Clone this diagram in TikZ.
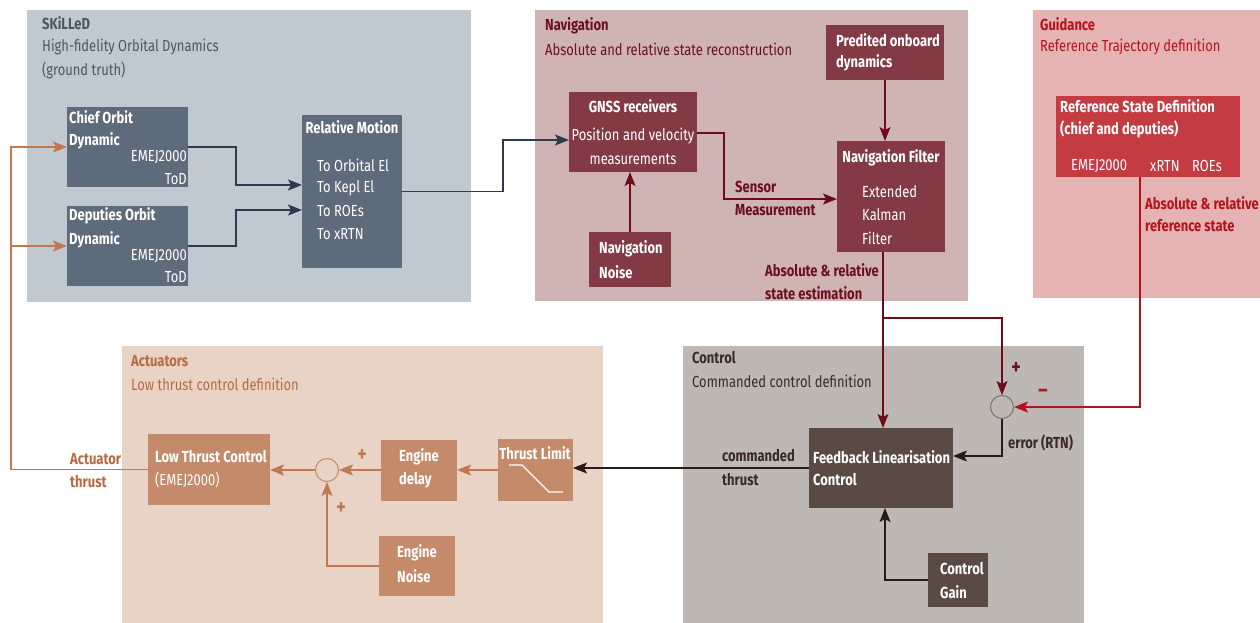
\documentclass[tikz,border=0pt]{standalone}
\usepackage{fontspec}
\setmainfont{Fira Sans}[FakeStretch=0.81]
\usetikzlibrary{arrows.meta,positioning}

\definecolor{skbg}{HTML}{C1C9D0}
\definecolor{skbox}{HTML}{5E6B7B}
\definecolor{sktxt}{HTML}{4A5666}
\definecolor{skarr}{HTML}{2E3B4E}
\definecolor{nvbg}{HTML}{D0B3B3}
\definecolor{nvbox}{HTML}{843A44}
\definecolor{nvtxt}{HTML}{6B1020}
\definecolor{nvarr}{HTML}{6E0C18}
\definecolor{gdbg}{HTML}{E6B3B4}
\definecolor{gdbox}{HTML}{C43C42}
\definecolor{gdtxt}{HTML}{B5121B}
\definecolor{acbg}{HTML}{E8D3C6}
\definecolor{acbox}{HTML}{C48A6A}
\definecolor{actxt}{HTML}{B86A40}
\definecolor{acarr}{HTML}{C07850}
\definecolor{ctbg}{HTML}{BEB8B4}
\definecolor{ctbox}{HTML}{5A4A44}
\definecolor{cttxt}{HTML}{3A2A24}
\definecolor{ctarr}{HTML}{2A1A16}

\tikzset{
  blk/.style={anchor=north west, inner sep=0pt, outer sep=0pt},
  txt/.style={anchor=west, inner sep=0pt, font=\fontsize{16}{19}\selectfont},
  hd/.style={txt, font=\fontsize{16}{19}\selectfont\bfseries},
  sgn/.style={anchor=center, inner sep=0pt, font=\fontsize{22}{22}\selectfont\bfseries},
  con/.style={line width=1.3pt, -{Stealth[length=14pt,width=11pt,inset=3pt]}},
  sumnode/.style={circle, draw=#1, line width=1pt, minimum size=23, inner sep=0pt},
}

\begin{document}
\begin{tikzpicture}[x=1pt,y=-1pt]
\fill[white] (0,0) rectangle (1260,623);
\useasboundingbox (0,0) rectangle (1260,623);

% group backgrounds
\fill[skbg] (27,10) rectangle (471,302);
\fill[nvbg] (535,10) rectangle (968,301);
\fill[gdbg] (1033,10) rectangle (1260,298);
\fill[acbg] (122,346) rectangle (603,623);
\fill[ctbg] (683,346) rectangle (1084,623);

% group titles
\node[hd, text=sktxt] (skT) at (42,23) {SKiLLeD};
\node[txt, text=sktxt] (skS1) at (42,47) {High-fidelity Orbital Dynamics};
\node[txt, text=sktxt] (skS2) at (42,70) {(ground truth)};
\node[hd, text=nvtxt] (nvT) at (545,26) {Navigation};
\node[txt, text=nvtxt] (nvS) at (545,49) {Absolute and relative state reconstruction};
\node[hd, text=gdtxt] (gdT) at (1040,24) {Guidance};
\node[txt, text=gdtxt] (gdS) at (1040,47) {Reference Trajectory definition};
\node[hd, text=actxt] (acT) at (131,361) {Actuators};
\node[txt, text=actxt] (acS) at (131,384) {Low thrust control definition};
\node[hd, text=cttxt] (ctT) at (692,358) {Control};
\node[txt, text=cttxt] (ctS) at (692,381) {Commanded control definition};

% SKiLLeD blocks
\node[blk, fill=skbox, minimum width=121, minimum height=80] (chief) at (67,107) {};
\node[hd, text=white] (chiefA) at (69,117) {Chief Orbit};
\node[hd, text=white] (chiefB) at (69,141) {Dynamic};
\node[txt, text=white, anchor=east] (chiefC) at (187,157) {EMEJ2000};
\node[txt, text=white, anchor=east] (chiefD) at (187,179) {ToD};

\node[blk, fill=skbox, minimum width=121, minimum height=80] (dep) at (67,206) {};
\node[hd, text=white] (depA) at (69,216) {Deputies Orbit};
\node[hd, text=white] (depB) at (69,240) {Dynamic};
\node[txt, text=white, anchor=east] (depC) at (187,256) {EMEJ2000};
\node[txt, text=white, anchor=east] (depD) at (187,277) {ToD};

\node[blk, fill=skbox, minimum width=100, minimum height=153] (relm) at (302,115) {};
\node[hd, text=white, anchor=center] (relmA) at (352,127) {Relative Motion};
\node[txt, text=white] (relmB) at (317,165) {To Orbital El};
\node[txt, text=white] (relmC) at (317,188) {To Kepl El};
\node[txt, text=white] (relmD) at (317,211) {To ROEs};
\node[txt, text=white] (relmE) at (317,234) {To xRTN};

% Navigation blocks
\node[blk, fill=nvbox, minimum width=128, minimum height=80] (gnss) at (569,92) {};
\node[hd, text=white, anchor=center] (gnssA) at (633,106) {GNSS receivers};
\node[txt, text=white, anchor=center] (gnssB) at (633,136) {Position and velocity};
\node[txt, text=white, anchor=center] (gnssC) at (633,159) {measurements};

\node[blk, fill=nvbox, minimum width=118, minimum height=55] (pred) at (826,25) {};
\node[hd, text=white] (predA) at (836,40) {Predited onboard};
\node[hd, text=white] (predB) at (836,63) {dynamics};

\node[blk, fill=nvbox, minimum width=108, minimum height=111] (navf) at (837,141) {};
\node[hd, text=white, anchor=center] (navfA) at (891,158) {Navigation Filter};
\node[txt, text=white] (navfB) at (862,192) {Extended};
\node[txt, text=white] (navfC) at (862,215) {Kalman};
\node[txt, text=white] (navfD) at (862,238) {Filter};

\node[blk, fill=nvbox, minimum width=82, minimum height=55] (nnoise) at (589,232) {};
\node[hd, text=white] (nnoiseA) at (599,249) {Navigation};
\node[hd, text=white] (nnoiseB) at (599,272) {Noise};

\node[hd, text=nvtxt] (sensA) at (735,187) {Sensor};
\node[hd, text=nvtxt] (sensB) at (735,210) {Measurement};
\node[hd, text=nvtxt] (estA) at (765,270) {Absolute \& relative};
\node[hd, text=nvtxt] (estB) at (765,293) {state estimation};

% Guidance block
\node[blk, fill=gdbox, minimum width=184, minimum height=81] (refs) at (1056,96) {};
\node[hd, text=white] (refsA) at (1060,106) {Reference State Definition};
\node[hd, text=white] (refsB) at (1060,129) {(chief and deputies)};
\node[txt, text=white] (refsC) at (1071,166) {EMEJ2000};
\node[txt, text=white] (refsD) at (1150,166) {xRTN};
\node[txt, text=white] (refsE) at (1192,166) {ROEs};
\node[hd, text=gdtxt] (refA) at (1145,203) {Absolute \& relative};
\node[hd, text=gdtxt] (refB) at (1145,226) {reference state};

% Actuators blocks
\node[blk, fill=acbox, minimum width=122, minimum height=71] (ltc) at (148,434) {};
\node[hd, text=white] (ltcA) at (155,457) {Low Thrust Control};
\node[txt, text=white] (ltcB) at (155,480) {(EMEJ2000)};

\node[blk, fill=acbox, minimum width=76, minimum height=61] (edelay) at (381,440) {};
\node[hd, text=white] (edelayA) at (399,457) {Engine};
\node[hd, text=white] (edelayB) at (399,480) {delay};

\node[blk, fill=acbox, minimum width=75, minimum height=62] (tlim) at (498,439) {};
\node[hd, text=white, anchor=center] (tlimA) at (535,453) {Thrust Limit};
\draw[white, line width=1.2pt] (509,465) -- (522,465) -- (549,492) -- (563,492);

\node[blk, fill=acbox, minimum width=76, minimum height=60] (enoise) at (379,536) {};
\node[hd, text=white] (enoiseA) at (397,553) {Engine};
\node[hd, text=white] (enoiseB) at (397,576) {Noise};

\node[sumnode=acbox, fill=acbg] (suma) at (327,470) {};
\node[sgn, text=acarr] (plusA) at (362,455) {+};
\node[sgn, text=acarr] (plusB) at (341,508) {+};
\node[hd, text=actxt] (actA) at (70,459) {Actuator};
\node[hd, text=actxt] (actB) at (70,482) {thrust};

% Control blocks
\node[blk, fill=ctbox, minimum width=144, minimum height=80] (fbl) at (809,428) {};
\node[hd, text=white] (fblA) at (813,457) {Feedback Linearisation};
\node[hd, text=white] (fblB) at (813,480) {Control};

\node[blk, fill=ctbox, minimum width=60, minimum height=54] (gain) at (928,553) {};
\node[hd, text=white] (gainA) at (940,569) {Control};
\node[hd, text=white] (gainB) at (940,592) {Gain};

\node[sumnode=gray!90!black, fill=ctbg] (sumc) at (1002,407) {};
\node[sgn, text=nvtxt] (plusC) at (1016,368) {+};
\node[sgn, text=gdtxt] (minC) at (1043,393) {\textendash};
\node[hd, text=cttxt] (cmdA) at (722,456) {commanded};
\node[hd, text=cttxt] (cmdB) at (722,480) {thrust};
\node[hd, text=cttxt] (errA) at (1008,443) {error (RTN)};

% connectors
\draw[con, skarr] (chief.east) -| (236,185) -- (relm.west |- 0,185);
\draw[con, skarr] (dep.east) -| (236,210) -- (relm.west |- 0,210);
\draw[con, skarr] (relm.east) -| (503,140) -- (gnss.west |- 0,140);

\draw[con, nvarr] (gnss.east |- 0,133) -| (724,199) -- (navf.west |- 0,199);
\draw[con, nvarr] (nnoise.north -| 630,0) -- (gnss.south -| 630,0);
\draw[con, nvarr] (pred.south -| 885,0) -- (navf.north -| 885,0);
\draw[con, nvarr] (navf.south -| 883,0) -- (fbl.north -| 883,0);
\coordinate (br) at (883,318);
\draw[con, nvarr] (br) -| (sumc.north);
\draw[con, gdtxt] ([xshift=-8pt]refs.south) |- (sumc.east);

\draw[con, ctarr] (sumc.south) |- (fbl.east |- 0,456);
\draw[con, ctarr] (gain.west) -| (fbl.south -| 885,0);
\draw[con, ctarr] (fbl.west) -- (tlim.east |- fbl.west);

\draw[con, acarr] (tlim.west) -- (edelay.east |- tlim.west);
\draw[con, acarr] (edelay.west |- suma.east) -- (suma.east);
\draw[con, acarr] (enoise.west) -| (suma.south);
\draw[con, acarr] (suma.west) -- (ltc.east |- suma.west);
\draw[con, acarr] (ltc.west) -| (11,147) -- (chief.west);
\coordinate (fb) at (11,246);
\draw[con, acarr] (fb) -- (dep.west);

\end{tikzpicture}
\end{document}
